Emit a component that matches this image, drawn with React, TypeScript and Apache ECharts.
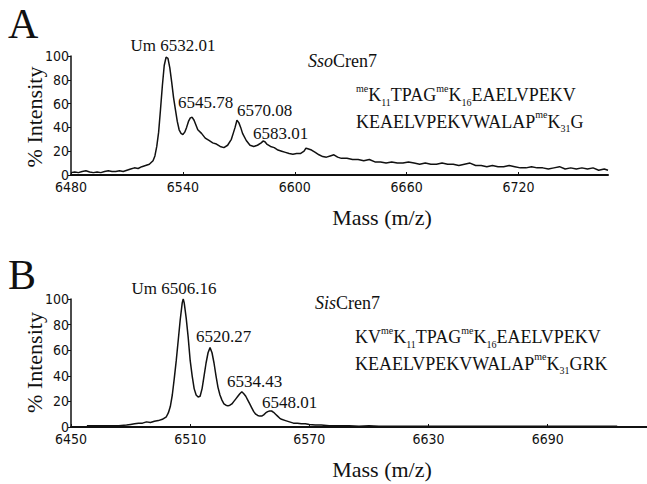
import React, { useEffect, useRef } from "react";
import * as echarts from "echarts";

// Panel A: SsoCren7 spectrum
const massA = [6480, 6482, 6484, 6486, 6488, 6490, 6492, 6494, 6496, 6498, 6500, 6502, 6504, 6506, 6508, 6510, 6512, 6514, 6516, 6518, 6520, 6522, 6524, 6525, 6526, 6527, 6528, 6529, 6530, 6531, 6532, 6533, 6534, 6535, 6536, 6537, 6538, 6539, 6540, 6541, 6542, 6543, 6544, 6545, 6546, 6547, 6548, 6550, 6552, 6554, 6556, 6558, 6560, 6562, 6564, 6566, 6567, 6568, 6569, 6570, 6571, 6572, 6574, 6576, 6578, 6580, 6582, 6583, 6584, 6585, 6587, 6589, 6591, 6593, 6595, 6597, 6599, 6601, 6603, 6605, 6606, 6607, 6609, 6611, 6613, 6615, 6617, 6619, 6621, 6623, 6625, 6628, 6631, 6634, 6637, 6640, 6643, 6646, 6649, 6652, 6655, 6658, 6661, 6664, 6667, 6670, 6673, 6676, 6679, 6682, 6685, 6688, 6691, 6694, 6697, 6700, 6703, 6706, 6709, 6712, 6715, 6718, 6721, 6724, 6727, 6730, 6733, 6736, 6739, 6742, 6745, 6748, 6751, 6754, 6757, 6760, 6763, 6766, 6768];
const intensityA = [2, 2.5, 2, 3, 3.5, 2.5, 2, 2.5, 2, 3, 3.5, 3, 3, 3.5, 3, 4, 5, 6, 5.5, 7, 8, 9, 12, 16, 24, 36, 55, 75, 92, 99, 98, 90, 78, 65, 55, 45, 38, 35, 34, 36, 40, 45, 48, 48.5, 46, 42, 38, 35, 31, 29, 27, 26, 24, 23, 25, 30, 35, 40, 46, 44, 40, 35, 29, 25, 24, 25, 27, 28.5, 28, 26, 24, 23, 21, 20, 19, 18, 17.5, 18, 18, 20, 22.5, 22, 21, 19, 17, 15.5, 15, 16, 17, 15, 14, 14, 13, 13, 12, 13, 11, 11, 10, 11, 10, 10, 11, 10, 9, 10, 9, 9, 10, 9, 9, 8, 9, 10, 8, 8, 7, 8, 7, 7, 8, 7, 6, 6, 7, 6, 6, 5, 6, 7, 5, 6, 5, 6, 5, 6, 4, 5, 4];

// Panel B: SisCren7 spectrum
const massB = [6458, 6462, 6466, 6470, 6474, 6478, 6480, 6482, 6484, 6486, 6488, 6490, 6492, 6494, 6496, 6498, 6499, 6500, 6501, 6502, 6503, 6504, 6505, 6506, 6506.5, 6507, 6508, 6509, 6510, 6511, 6512, 6513, 6514, 6515, 6516, 6517, 6518, 6519, 6520, 6521, 6522, 6523, 6524, 6525, 6526, 6527, 6528, 6529, 6530, 6531, 6532, 6533, 6534, 6535, 6536, 6537, 6538, 6539, 6540, 6541, 6542, 6543, 6544, 6545, 6546, 6547, 6548, 6549, 6550, 6551, 6552, 6553, 6554, 6555, 6556, 6558, 6560, 6562, 6564, 6566, 6568, 6570, 6573, 6576, 6580, 6585, 6590, 6595, 6600, 6605, 6610, 6620, 6630, 6640, 6650, 6660, 6670, 6680, 6690, 6700, 6710, 6720, 6725];
const intensityB = [1, 1, 1, 1, 1, 1.5, 2, 2.5, 3, 3, 4, 3.5, 4.5, 5, 6, 8, 11, 16, 25, 38, 52, 68, 84, 97, 100, 97, 85, 70, 52, 40, 30, 25, 23.5, 24, 30, 40, 50, 58, 62, 58, 50, 40, 31, 25, 21, 18, 17, 16.5, 17, 18, 20, 22, 24, 26, 27.5, 26, 24, 21, 18, 15, 12, 10, 9, 8.5, 8.5, 9.5, 11, 12, 12.5, 12.5, 11.5, 10, 8.5, 7, 6, 5, 4, 3, 3, 2.5, 2.5, 2, 1.5, 1.5, 1, 1, 1, 0.5, 1, 0.5, 0.5, 0.5, 0.5, 0.5, 0.5, 0.5, 0.5, 0.5, 0.5, 0.5, 0.5, 0.5, 0.5];

const ticksA = [6480, 6540, 6600, 6660, 6720];
const ticksB = [6450, 6510, 6570, 6630, 6690];

const SERIF = "Liberation Serif, Times New Roman, serif";
const SANS = "DejaVu Sans Condensed, Liberation Sans Narrow, sans-serif";
const INK = "#111";

function xAxisFor(grid: number, min: number, max: number, ticks: number[]) {
  return {
    type: "value",
    gridIndex: grid,
    min,
    max,
    axisLine: { show: true, onZero: false, lineStyle: { color: INK, width: 2 } },
    axisTick: { show: true, inside: true, length: 3, customValues: ticks, lineStyle: { color: INK } },
    axisLabel: {
      customValues: ticks,
      fontFamily: SANS,
      fontSize: 14,
      color: INK,
      margin: 5,
      formatter: (v: number) => String(v),
    },
    splitLine: { show: false },
  };
}

function yAxisFor(grid: number) {
  return {
    type: "value",
    gridIndex: grid,
    min: 0,
    max: 100,
    interval: 20,
    axisLine: { show: true, lineStyle: { color: INK, width: 1.5 } },
    axisTick: { show: true, length: 3, lineStyle: { color: INK } },
    axisLabel: { fontFamily: SANS, fontSize: 14, color: INK, margin: 2 },
    splitLine: { show: false },
  };
}

const seqRich = {
  n: { fontFamily: SERIF, fontSize: 18, lineHeight: 24, fill: INK },
  sup: { fontFamily: SERIF, fontSize: 10, lineHeight: 14, verticalAlign: "top", fill: INK },
  sub: { fontFamily: SERIF, fontSize: 10, lineHeight: 11, verticalAlign: "bottom", fill: INK },
  i: { fontFamily: SERIF, fontSize: 18, fontStyle: "italic", lineHeight: 24, fill: INK },
};

function txt(text: string, x: number, y: number, size: number, align = "left", extra: any = {}) {
  return {
    type: "text",
    x,
    y,
    style: { text, fontFamily: SERIF, fontSize: size, fill: INK, textAlign: align, textVerticalAlign: "middle", ...extra },
  };
}

function rich(text: string, x: number, y: number) {
  return {
    type: "text",
    x,
    y,
    style: { text, rich: seqRich, textAlign: "left", textVerticalAlign: "middle" },
  };
}

export default function App() {
  const ref = useRef<HTMLDivElement>(null);
  useEffect(() => {
    if (!ref.current) return;
    const chart = echarts.init(ref.current, null, { renderer: "svg" });
    chart.setOption({
      animation: false,
      backgroundColor: "#fff",
      grid: [
        { left: 71, top: 56, width: 537, height: 119 },
        { left: 71, top: 299, width: 576, height: 128 },
      ],
      xAxis: [xAxisFor(0, 6480, 6768, ticksA), xAxisFor(1, 6450, 6740, ticksB)],
      yAxis: [yAxisFor(0), yAxisFor(1)],
      series: [
        {
          type: "line",
          xAxisIndex: 0,
          yAxisIndex: 0,
          data: massA.map((m, i) => [m, intensityA[i]]),
          showSymbol: false,
          lineStyle: { color: INK, width: 1.5 },
          silent: true,
        },
        {
          type: "line",
          xAxisIndex: 1,
          yAxisIndex: 1,
          data: massB.map((m, i) => [m, intensityB[i]]),
          showSymbol: false,
          lineStyle: { color: INK, width: 1.5 },
          silent: true,
        },
      ],
      graphic: [
        txt("A", 8, 24, 42),
        txt("B", 8, 275, 42),
        txt("Um 6532.01", 173, 45, 17, "center"),
        txt("6545.78", 178, 102, 17),
        txt("6570.08", 237, 110.5, 17),
        txt("6583.01", 253, 133.5, 17),
        txt("Um 6506.16", 174, 288, 17, "center"),
        txt("6520.27", 196, 336, 17),
        txt("6534.43", 227, 381, 17),
        txt("6548.01", 262, 402, 17),
        rich("{i|Sso}{n|Cren7}", 308, 61),
        rich("{sup|me}{n|K}{sub|11}{n|TPAG}{sup|me}{n|K}{sub|16}{n|EAELVPEKV}", 356, 95),
        rich("{n|KEAELVPEKVWALAP}{sup|me}{n|K}{sub|31}{n|G}", 356, 121.5),
        rich("{i|Sis}{n|Cren7}", 315, 303),
        rich("{n|KV}{sup|me}{n|K}{sub|11}{n|TPAG}{sup|me}{n|K}{sub|16}{n|EAELVPEKV}", 355, 337),
        rich("{n|KEAELVPEKVWALAP}{sup|me}{n|K}{sub|31}{n|GRK}", 355, 363.5),
        { ...txt("% Intensity", 34, 117, 22, "center"), rotation: Math.PI / 2 },
        { ...txt("% Intensity", 34, 362.5, 22, "center"), rotation: Math.PI / 2 },
        txt("Mass (m/z)", 382, 217, 22, "center"),
        txt("Mass (m/z)", 382, 469, 22, "center"),
      ],
    });
    return () => chart.dispose();
  }, []);
  return <div ref={ref} style={{ position: "absolute", left: 0, top: 0, width: 647, height: 484 }} />;
}
